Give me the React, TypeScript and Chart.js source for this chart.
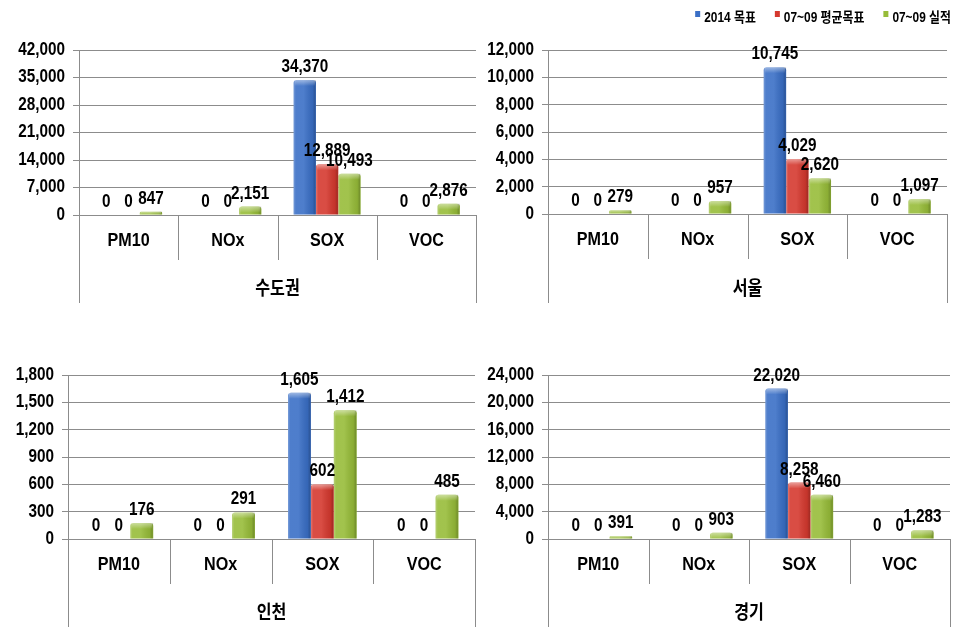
import React, { useEffect, useRef } from "react";
import { Chart, registerables } from "chart.js";

Chart.register(...registerables);

// ---------- data ----------
const categories = ["PM10", "NOx", "SOX", "VOC"];
const seriesLabels = ["2014 목표", "07~09 평균목표", "07~09 실적"];
const regionNames = ["수도권", "서울", "인천", "경기"];

const sudogwonTarget2014 = [0, 0, 34370, 0];
const sudogwonAvgTarget = [0, 0, 12889, 0];
const sudogwonActual = [847, 2151, 10493, 2876];

const seoulTarget2014 = [0, 0, 10745, 0];
const seoulAvgTarget = [0, 0, 4029, 0];
const seoulActual = [279, 957, 2620, 1097];

const incheonTarget2014 = [0, 0, 1605, 0];
const incheonAvgTarget = [0, 0, 602, 0];
const incheonActual = [176, 291, 1412, 485];

const gyeonggiTarget2014 = [0, 0, 22020, 0];
const gyeonggiAvgTarget = [0, 0, 8258, 0];
const gyeonggiActual = [391, 903, 6460, 1283];

const yMaxima = [42000, 12000, 1800, 24000];
const ySteps = [7000, 2000, 300, 4000];

const panelSeries = [
  [sudogwonTarget2014, sudogwonAvgTarget, sudogwonActual],
  [seoulTarget2014, seoulAvgTarget, seoulActual],
  [incheonTarget2014, incheonAvgTarget, incheonActual],
  [gyeonggiTarget2014, gyeonggiAvgTarget, gyeonggiActual],
];

// ---------- styles / layout ----------
const seriesColors = ["#3a6fc6", "#d5392f", "#97bc39"];
const FONT = "'Liberation Sans', 'Noto Sans CJK KR', sans-serif";
const GRID = "#8c8c8c";
const SX = 0.85; // horizontal condensing of all text (reference uses a narrow font)

const panels = [
  { left: 0, top: 30, w: 480, h: 285, yw: 79, pt: 20, pr: 4, pb: 12, xh: 88 },
  { left: 480, top: 0, w: 482, h: 315, yw: 68, pt: 50, pr: 15, pb: 12, xh: 89 },
  { left: 0, top: 345, w: 480, h: 291, yw: 68, pt: 30, pr: 5, pb: 9, xh: 88 },
  { left: 480, top: 345, w: 482, h: 291, yw: 68, pt: 30, pr: 12, pb: 9, xh: 88 },
];

const fmt = (v: number) => Number(v).toLocaleString("en-US");

const condensePlugin = {
  id: "condense",
  beforeInit(chart: any) {
    const ctx: any = chart.ctx;
    if (ctx.__condensed) return;
    const orig = ctx.fillText;
    ctx.fillText = function (text: string, x: number, y: number) {
      this.save();
      this.translate(x, y);
      this.scale(SX, 1);
      orig.call(this, text, 0, 0);
      this.restore();
    };
    ctx.__condensed = true;
  },
};

const decoPlugin = {
  id: "barDeco",
  afterDatasetsDraw(chart: any) {
    const ctx = chart.ctx;
    chart.data.datasets.forEach((ds: any, di: number) => {
      const meta = chart.getDatasetMeta(di);
      meta.data.forEach((el: any) => {
        const { x, y, base, width } = el.getProps(["x", "y", "base", "width"], true);
        const h = base - y;
        if (h <= 0.5) return;
        const l = x - width / 2;
        ctx.save();
        const g = ctx.createLinearGradient(l, 0, l + width, 0);
        g.addColorStop(0, "rgba(255,255,255,0.30)");
        g.addColorStop(0.1, "rgba(255,255,255,0.10)");
        g.addColorStop(0.45, "rgba(255,255,255,0.10)");
        g.addColorStop(0.85, "rgba(0,0,0,0.08)");
        g.addColorStop(0.95, "rgba(0,0,0,0.22)");
        g.addColorStop(1, "rgba(0,0,0,0.10)");
        ctx.fillStyle = g;
        ctx.fillRect(l, y, width, h);
        const capH = Math.min(6, h);
        const g2 = ctx.createLinearGradient(0, y, 0, y + capH);
        g2.addColorStop(0, "rgba(255,255,255,0.45)");
        g2.addColorStop(1, "rgba(255,255,255,0)");
        ctx.fillStyle = g2;
        ctx.fillRect(l + 1, y, width - 2, capH);
        ctx.restore();
      });
    });
    ctx.save();
    ctx.font = `bold 18px ${FONT}`;
    ctx.fillStyle = "#000";
    ctx.textAlign = "center";
    ctx.textBaseline = "alphabetic";
    chart.data.datasets.forEach((ds: any, di: number) => {
      const meta = chart.getDatasetMeta(di);
      meta.data.forEach((el: any, i: number) => {
        const { x, y } = el.getProps(["x", "y"], true);
        ctx.fillText(fmt(ds.data[i]), x, y - 8);
      });
    });
    ctx.restore();
  },
  afterDraw(chart: any) {
    const ctx = chart.ctx;
    const xs = chart.scales.x;
    const n = chart.data.labels.length;
    const w = (xs.right - xs.left) / n;
    ctx.save();
    ctx.strokeStyle = GRID;
    ctx.lineWidth = 1;
    ctx.beginPath();
    for (let i = 0; i <= n; i++) {
      const x = Math.round(xs.left + i * w) + 0.5;
      const y1 = i === 0 || i === n ? xs.bottom : xs.top + 45;
      ctx.moveTo(x, xs.top);
      ctx.lineTo(x, y1);
    }
    ctx.stroke();
    ctx.restore();
  },
};

const legendPlugin = {
  id: "topLegend",
  afterDraw(chart: any) {
    const ctx = chart.ctx;
    ctx.save();
    ctx.font = `bold 14px ${FONT}`;
    ctx.textBaseline = "alphabetic";
    ctx.textAlign = "left";
    const items = chart.data.datasets;
    const widths = items.map((d: any) => ctx.measureText(d.label).width * SX);
    const marker = 5, gapMT = 4, gapItems = 19;
    const total =
      widths.reduce((a: number, b: number) => a + b, 0) +
      items.length * (marker + gapMT) +
      gapItems * (items.length - 1);
    let x = chart.width - 11 - total;
    items.forEach((d: any, i: number) => {
      ctx.fillStyle = d.backgroundColor;
      ctx.fillRect(x, 11, marker, 6);
      ctx.fillStyle = "#000";
      ctx.fillText(d.label, x + marker + gapMT, 22);
      x += marker + gapMT + widths[i] + gapItems;
    });
    ctx.restore();
  },
};

function makeConfig(p: number): any {
  const L = panels[p];
  return {
    type: "bar",
    data: {
      labels: categories,
      datasets: seriesLabels.map((label, i) => ({
        label,
        data: panelSeries[p][i],
        backgroundColor: seriesColors[i],
        borderWidth: 0,
        borderRadius: { topLeft: 3, topRight: 3, bottomLeft: 0, bottomRight: 0 },
        borderSkipped: "bottom",
        categoryPercentage: 0.675,
        barPercentage: 1,
      })),
    },
    options: {
      responsive: false,
      maintainAspectRatio: false,
      animation: false,
      devicePixelRatio: 1,
      layout: { padding: { left: 0, top: L.pt, right: L.pr, bottom: L.pb } },
      plugins: {
        legend: { display: false },
        tooltip: { enabled: false },
      },
      scales: {
        x: {
          grid: { display: false, drawTicks: false },
          border: { display: false },
          ticks: {
            font: { family: FONT, size: 19, weight: "bold" },
            color: "#000",
            padding: 14,
            maxRotation: 0,
          },
          title: {
            display: true,
            text: regionNames[p],
            font: { family: FONT, size: 19, weight: "bold" },
            color: "#000",
            padding: { top: 0, bottom: 2 },
          },
          afterFit: (s: any) => {
            s.height = L.xh;
          },
        },
        y: {
          min: 0,
          max: yMaxima[p],
          ticks: {
            stepSize: ySteps[p],
            font: { family: FONT, size: 18, weight: "bold" },
            color: "#000",
            padding: 8,
            callback: (v: any) => fmt(v),
          },
          grid: { color: GRID, tickLength: 6, lineWidth: 1 },
          border: { color: GRID },
          afterFit: (s: any) => {
            s.width = L.yw;
          },
        },
      },
    },
    plugins: p === 1 ? [condensePlugin, decoPlugin, legendPlugin] : [condensePlugin, decoPlugin],
  };
}

export default function App() {
  const r0 = useRef<HTMLCanvasElement>(null);
  const r1 = useRef<HTMLCanvasElement>(null);
  const r2 = useRef<HTMLCanvasElement>(null);
  const r3 = useRef<HTMLCanvasElement>(null);
  const refs = [r0, r1, r2, r3];

  useEffect(() => {
    const charts = refs.map((r, p) => new Chart(r.current as HTMLCanvasElement, makeConfig(p)));
    return () => charts.forEach((c) => c.destroy());
  }, []);

  return (
    <div
      style={{
        position: "absolute",
        left: 0,
        top: 0,
        width: 962,
        height: 636,
        background: "#fff",
        overflow: "hidden",
      }}
    >
      {panels.map((L, p) => (
        <canvas
          key={p}
          ref={refs[p]}
          width={L.w}
          height={L.h}
          style={{ position: "absolute", left: L.left, top: L.top, width: L.w, height: L.h }}
        />
      ))}
    </div>
  );
}
